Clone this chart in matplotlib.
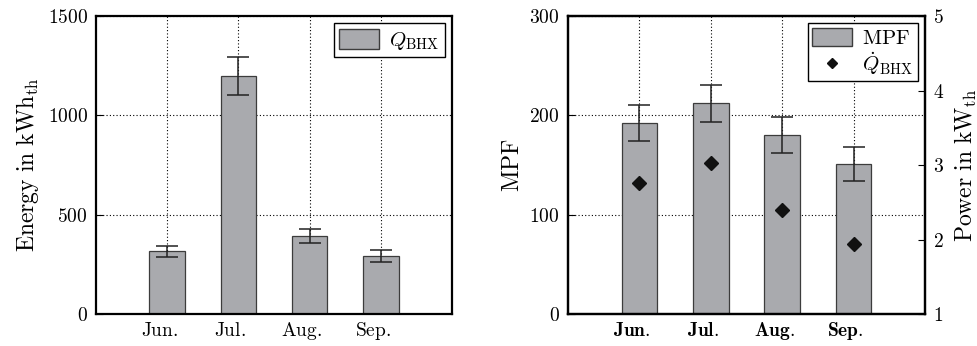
import numpy as np
import matplotlib
matplotlib.use("Agg")
import matplotlib.pyplot as plt
import matplotlib.transforms as mtransforms
from matplotlib.lines import Line2D
from matplotlib.patches import Patch

plt.rcParams["mathtext.fontset"] = "cm"
plt.rcParams["font.family"] = "serif"
plt.rcParams["font.serif"] = ["DejaVu Serif"]

# monthly data
months = ["Jun.", "Jul.", "Aug.", "Sep."]
energy = [315, 1200, 394, 293]
energy_err = [26, 95, 35, 31]
mpf = [192, 212, 180, 151]
mpf_err = [18, 19, 18, 17]
power = [2.76, 3.03, 2.40, 1.94]

bar_color = "#a9aaae"
edge_color = "#3c3c3c"
x = np.arange(1, len(months) + 1)


def style_axes(ax):
    ax.set_xlim(0, 5)
    ax.grid(True, linestyle=(0, (1, 2)), color="black", linewidth=0.8)
    ax.set_axisbelow(True)
    for sp in ax.spines.values():
        sp.set_linewidth(1.6)
    ax.tick_params(direction="in", length=5, width=0.8, top=False)
    ax.tick_params(axis="x", pad=16)
    ax.tick_params(axis="y", pad=6)


def fix_xlabels(ax, dx=-8):
    # shift month labels a bit to the left and line them up on their baseline
    off = mtransforms.ScaledTranslation(dx / 100, 0, ax.figure.dpi_scale_trans)
    for lab in ax.get_xticklabels():
        lab.set_transform(lab.get_transform() + off)
        lab.set_verticalalignment("baseline")


def mt(s, bold=False):
    cmd = r"\mathbf" if bold else r"\mathrm"
    return "$" + cmd + "{" + s.replace(" ", r"\ ") + "}$"


fig = plt.figure(figsize=(9.78, 3.46), dpi=100)

# left: monthly heat extracted
ax1 = fig.add_axes([0.0982, 0.0925, 0.364, 0.861])
style_axes(ax1)
ax1.bar(x, energy, width=0.5, color=bar_color, edgecolor=edge_color, linewidth=0.9)
ax1.errorbar(x, energy, yerr=energy_err, fmt="none", ecolor="#222222",
             elinewidth=1.1, capsize=8, capthick=1.1)
ax1.set_ylim(0, 1500)
ax1.set_yticks([0, 500, 1000, 1500])
ax1.set_yticklabels([mt(str(v)) for v in [0, 500, 1000, 1500]], fontsize=14)
ax1.set_xticks(x)
ax1.set_xticklabels([mt(m) for m in months], fontsize=14)
fix_xlabels(ax1)
ax1.set_ylabel(r"$\mathrm{Energy\ in\ kWh}_{\mathrm{th}}$", fontsize=17, labelpad=5)
ax1.legend(handles=[Patch(facecolor=bar_color, edgecolor=edge_color)],
           labels=[r"$Q_{\mathrm{BHX}}$"], loc="upper right", fontsize=15,
           fancybox=False, edgecolor="black", framealpha=1,
           borderaxespad=0.35, handlelength=1.9, handleheight=1.1,
           borderpad=0.25, handletextpad=0.5)

# right: MPF with mean power
ax2 = fig.add_axes([0.5808, 0.0925, 0.365, 0.861])
style_axes(ax2)
ax2.bar(x, mpf, width=0.5, color=bar_color, edgecolor=edge_color, linewidth=0.9)
ax2.errorbar(x, mpf, yerr=mpf_err, fmt="none", ecolor="#222222",
             elinewidth=1.1, capsize=8, capthick=1.1)
ax2.set_ylim(0, 300)
ax2.set_yticks([0, 100, 200, 300])
ax2.set_yticklabels([mt(str(v)) for v in [0, 100, 200, 300]], fontsize=14)
ax2.set_xticks(x)
ax2.set_xticklabels([mt(m, bold=True) for m in months], fontsize=14)
fix_xlabels(ax2)
ax2.set_ylabel(mt("MPF"), fontsize=17, labelpad=4)
ax2.tick_params(right=False)

ax3 = ax2.twinx()
ax3.plot(x, power, linestyle="none", marker="D", markersize=7.5,
         color="#111111")
ax3.set_ylim(1, 5)
ax3.set_yticks([1, 2, 3, 4, 5])
ax3.set_yticklabels([mt(str(v)) for v in [1, 2, 3, 4, 5]], fontsize=14)
ax3.tick_params(direction="in", length=5, width=0.8, pad=6)
for sp in ax3.spines.values():
    sp.set_linewidth(1.6)
ax3.set_ylabel(r"$\mathrm{Power\ in\ kW}_{\mathrm{th}}$", fontsize=17, labelpad=6)

handles = [Patch(facecolor=bar_color, edgecolor=edge_color),
           Line2D([], [], linestyle="none", marker="D", markersize=5,
                  color="#111111")]
ax3.legend(handles=handles, labels=[mt("MPF"), r"$\dot{Q}_{\mathrm{BHX}}$"],
           loc="upper right", fontsize=15, fancybox=False, edgecolor="black",
           framealpha=1, borderaxespad=0.35, handlelength=1.9,
           handleheight=1.0, borderpad=0.2, labelspacing=0.1,
           handletextpad=0.5)

fig.savefig("out.png", dpi=100)
